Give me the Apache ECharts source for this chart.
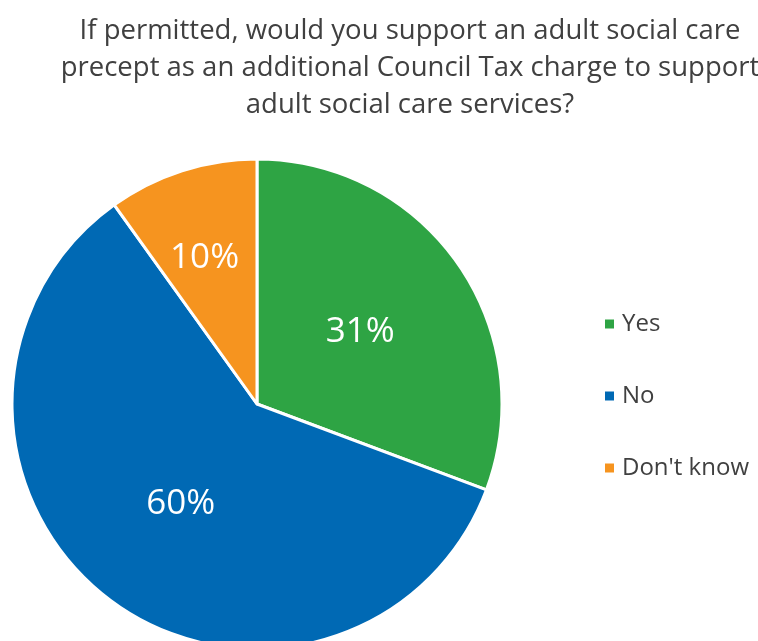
<!DOCTYPE html>
<html>
<head>
<meta charset="utf-8">
<script src="https://cdn.jsdelivr.net/npm/echarts@6/dist/echarts.min.js"></script>
<style>
  html, body { margin: 0; padding: 0; background: #fff; }
  #chart { width: 758px; height: 641px; }
</style>
</head>
<body>
<div id="chart"></div>
<script>
// Survey responses (percent)
const categories = ['Yes', 'No', "Don't know"];
const values = [31, 60, 10];
const colors = ['#2EA444', '#0069B4', '#F6941F'];
const titleLines = [
  'If permitted, would you support an adult social care',
  'precept as an additional Council Tax charge to support',
  'adult social care services?'
];

const FONT = '"Open Sans", "Noto Sans", sans-serif';

const chart = echarts.init(document.getElementById('chart'), null, { renderer: 'canvas' });

const labelOffsets = [[0, 0], [0, 0], [-14, -26]];

chart.setOption({
  animation: false,
  color: colors,
  title: {
    text: titleLines.join('\n'),
    left: 405,
    top: 8,
    textAlign: 'center',
    textStyle: {
      fontFamily: FONT,
      fontWeight: 'normal',
      fontSize: 27.5,
      lineHeight: 37,
      color: '#404040'
    }
  },
  legend: {
    orient: 'vertical',
    left: 598,
    top: 307,
    itemWidth: 11,
    itemHeight: 11,
    itemGap: 48,
    icon: 'rect',
    textStyle: {
      fontFamily: FONT,
      fontSize: 24,
      color: '#404040',
      padding: [0, 0, 0, 2]
    },
    data: categories
  },
  series: [{
    type: 'pie',
    center: [257, 404],
    radius: 245,
    startAngle: 90,
    clockwise: true,
    avoidLabelOverlap: false,
    itemStyle: { borderColor: '#ffffff', borderWidth: 3 },
    label: {
      show: true,
      position: 'inside',
      formatter: '{c}%',
      color: '#ffffff',
      fontFamily: FONT,
      fontSize: 35
    },
    labelLine: { show: false },
    emphasis: { disabled: true },
    data: categories.map((name, i) => ({
      name: name,
      value: values[i],
      label: { offset: labelOffsets[i] }
    }))
  }]
});
</script>
</body>
</html>
